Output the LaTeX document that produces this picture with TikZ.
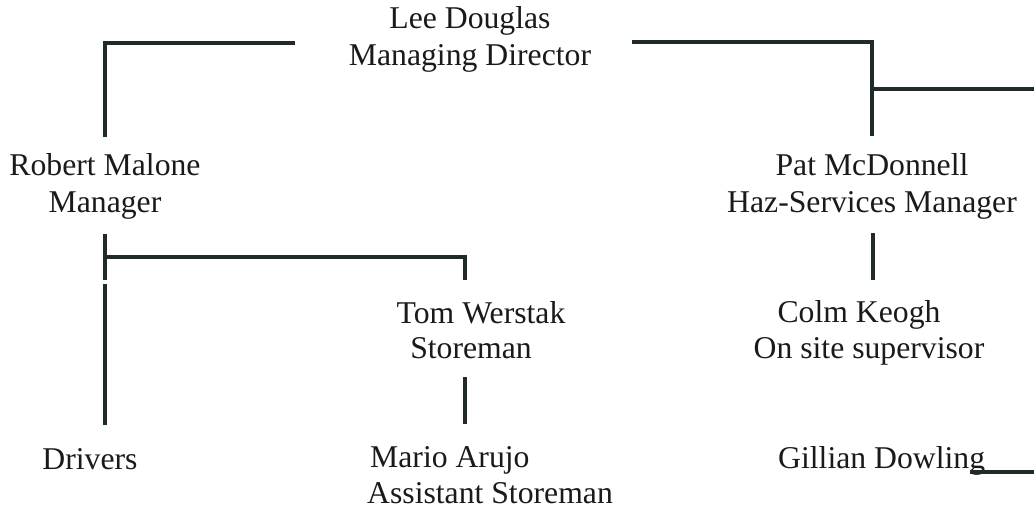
\documentclass[tikz,border=0pt]{standalone}
\usepackage{fontspec}
\setmainfont{Liberation Serif}
\definecolor{txt}{HTML}{1A1A1A}
\definecolor{ln}{HTML}{1F2A2A}
\begin{document}
\begin{tikzpicture}[x=1pt,y=-1pt,
  lbl/.style={inner sep=0pt, font=\fontsize{31.7}{37}\selectfont, text=txt},
  link/.style={draw=ln, line width=3.6pt, line join=miter}]
\useasboundingbox[fill=white] (0,0) rectangle (1034,515);
% texts
\node[lbl,anchor=base] (lee1) at (470,28) {Lee Douglas};
\node[lbl,anchor=base] (lee2) at (470,65) {Managing Director};
\node[lbl,anchor=base] (rob1) at (105,175) {Robert Malone};
\node[lbl,anchor=base] (rob2) at (105,212) {Manager};
\node[lbl,anchor=base] (pat1) at (872,175) {Pat McDonnell};
\node[lbl,anchor=base] (pat2) at (872,212) {Haz-Services Manager};
\node[lbl,anchor=base] (tom1) at (481,323) {Tom Werstak};
\node[lbl,anchor=base] (tom2) at (471,358) {Storeman};
\node[lbl,anchor=base] (colm1) at (859,322) {Colm Keogh};
\node[lbl,anchor=base] (colm2) at (869,358) {On site supervisor};
\node[lbl,anchor=base] (drv) at (90,469) {Drivers};
\node[lbl,anchor=base west] (mar1) at (370,467) {Mario Arujo};
\node[lbl,anchor=base west] (mar2) at (367,503) {Assistant Storeman};
\node[lbl,anchor=base west] (gil) at (778,468) {Gillian Dowling};
% line end points
\coordinate (tlA) at (295,43);
\coordinate (tlB) at (105,43);
\coordinate (tlC) at (105,137);
\coordinate (trA) at (632,42);
\coordinate (trB) at (872,42);
\coordinate (trC) at (872,136);
\coordinate (trD) at (872,89);
\coordinate (trE) at (1034,89);
\coordinate (rA) at (105,234);
\coordinate (rB) at (105,280);
\coordinate (rC) at (105,257);
\coordinate (rD) at (465,257);
\coordinate (rE) at (465,280);
\coordinate (rF) at (105,284);
\coordinate (rG) at (105,425);
\coordinate (tA) at (465,377);
\coordinate (tB) at (465,424);
\coordinate (pA) at (873,233);
\coordinate (pB) at (873,280);
\coordinate (gA) at (970,472);
\coordinate (gB) at (1034,472);
% connectors
\draw[link] (tlA) -- (tlB) -- (tlC);
\draw[link] (trA) -- (trB) -- (trC);
\draw[link] (trD) -- (trE);
\draw[link] (rA) -- (rB);
\draw[link] (rC) -- (rD) -- (rE);
\draw[link] (rF) -- (rG);
\draw[link] (tA) -- (tB);
\draw[link] (pA) -- (pB);
\draw[link] (gA) -- (gB);
\end{tikzpicture}
\end{document}
